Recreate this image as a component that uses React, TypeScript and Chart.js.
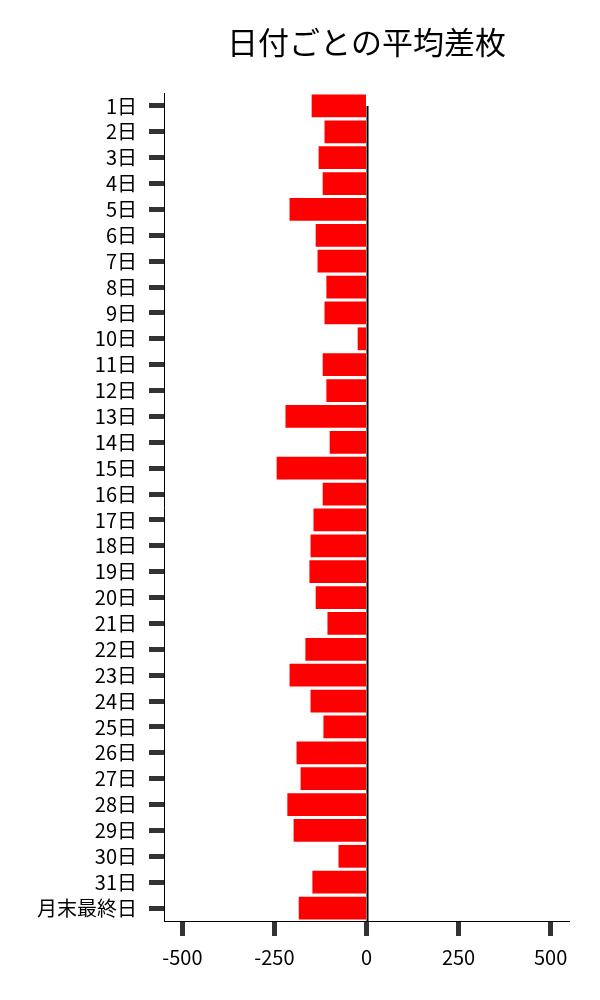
import React, { useRef, useEffect } from "react";
import Chart from "chart.js/auto";

const FONT = "'Noto Sans CJK JP', 'Noto Sans', sans-serif";

const title = "日付ごとの平均差枚";

const days = [
  "1日", "2日", "3日", "4日", "5日", "6日", "7日", "8日", "9日", "10日",
  "11日", "12日", "13日", "14日", "15日", "16日", "17日", "18日", "19日", "20日",
  "21日", "22日", "23日", "24日", "25日", "26日", "27日", "28日", "29日", "30日",
  "31日", "月末最終日",
];

const avgDiff = [
  -149, -114, -130, -119, -209, -138, -133, -109, -114, -24,
  -119, -109, -220, -100, -244, -119, -144, -152, -155, -138,
  -106, -166, -209, -152, -117, -190, -179, -215, -198, -76,
  -147, -184,
];

const xTicks = [-500, -250, 0, 250, 500];
const xMin = -550;
const xMax = 550;

// black line at x = 0, drawn over the bars
const zeroLine = {
  id: "zeroLine",
  afterDatasetsDraw(chart: any) {
    const { ctx, scales, chartArea } = chart;
    const x = Math.round(scales.x.getPixelForValue(0)) + 0.5;
    const top = scales.y.getPixelForValue(0);
    ctx.save();
    ctx.strokeStyle = "#000";
    ctx.lineWidth = 2;
    ctx.beginPath();
    ctx.moveTo(x, top);
    ctx.lineTo(x, chartArea.bottom);
    ctx.stroke();
    ctx.restore();
  },
};

// title centred over the plot area, not the whole canvas
const plotTitle = {
  id: "plotTitle",
  afterDraw(chart: any) {
    const { ctx, chartArea } = chart;
    ctx.save();
    ctx.fillStyle = "#000";
    ctx.font = `31px ${FONT}`;
    ctx.textAlign = "center";
    ctx.textBaseline = "middle";
    ctx.fillText(title, (chartArea.left + chartArea.right) / 2, 42);
    ctx.restore();
  },
};

const App: React.FC = () => {
  const chartRef = useRef<HTMLCanvasElement | null>(null);

  useEffect(() => {
    const config: any = {
      type: "bar",
      data: {
        labels: days,
        datasets: [
          {
            label: title,
            data: avgDiff,
            backgroundColor: "#ff0000",
            borderWidth: 0,
            barPercentage: 0.88,
            categoryPercentage: 1,
          },
        ],
      },
      options: {
        indexAxis: "y",
        animation: false,
        responsive: true,
        maintainAspectRatio: false,
        layout: { padding: { left: 0, right: 31, top: 93, bottom: 0 } },
        plugins: {
          legend: { display: false },
          tooltip: { enabled: false },
          title: { display: false },
        },
        scales: {
          x: {
            type: "linear",
            min: xMin,
            max: xMax,
            afterBuildTicks: (scale: any) => {
              scale.ticks = xTicks.map((v) => ({ value: v }));
            },
            afterFit: (scale: any) => {
              scale.height = 79;
            },
            border: { display: true, color: "#000", width: 1 },
            grid: {
              drawOnChartArea: false,
              drawTicks: true,
              tickLength: 15,
              tickWidth: 5,
              tickColor: "#333",
            },
            ticks: {
              color: "#000",
              padding: 9,
              maxRotation: 0,
              font: { family: FONT, size: 20 },
            },
          },
          y: {
            afterFit: (scale: any) => {
              scale.width = 164;
            },
            border: { display: true, color: "#000", width: 1 },
            grid: {
              offset: false,
              drawOnChartArea: false,
              drawTicks: true,
              tickLength: 15,
              tickWidth: 5,
              tickColor: "#333",
            },
            ticks: {
              color: "#000",
              padding: 12,
              autoSkip: false,
              font: { family: FONT, size: 20 },
            },
          },
        },
      },
      plugins: [zeroLine, plotTitle],
    };

    const myChart = new Chart(chartRef.current!.getContext("2d")!, config);

    return () => {
      myChart.destroy();
    };
  }, []);

  return (
    <div style={{ position: "absolute", left: 0, top: 0, width: "600px", height: "1000px", background: "#fff" }}>
      <canvas ref={chartRef}></canvas>
    </div>
  );
};

export default App;
